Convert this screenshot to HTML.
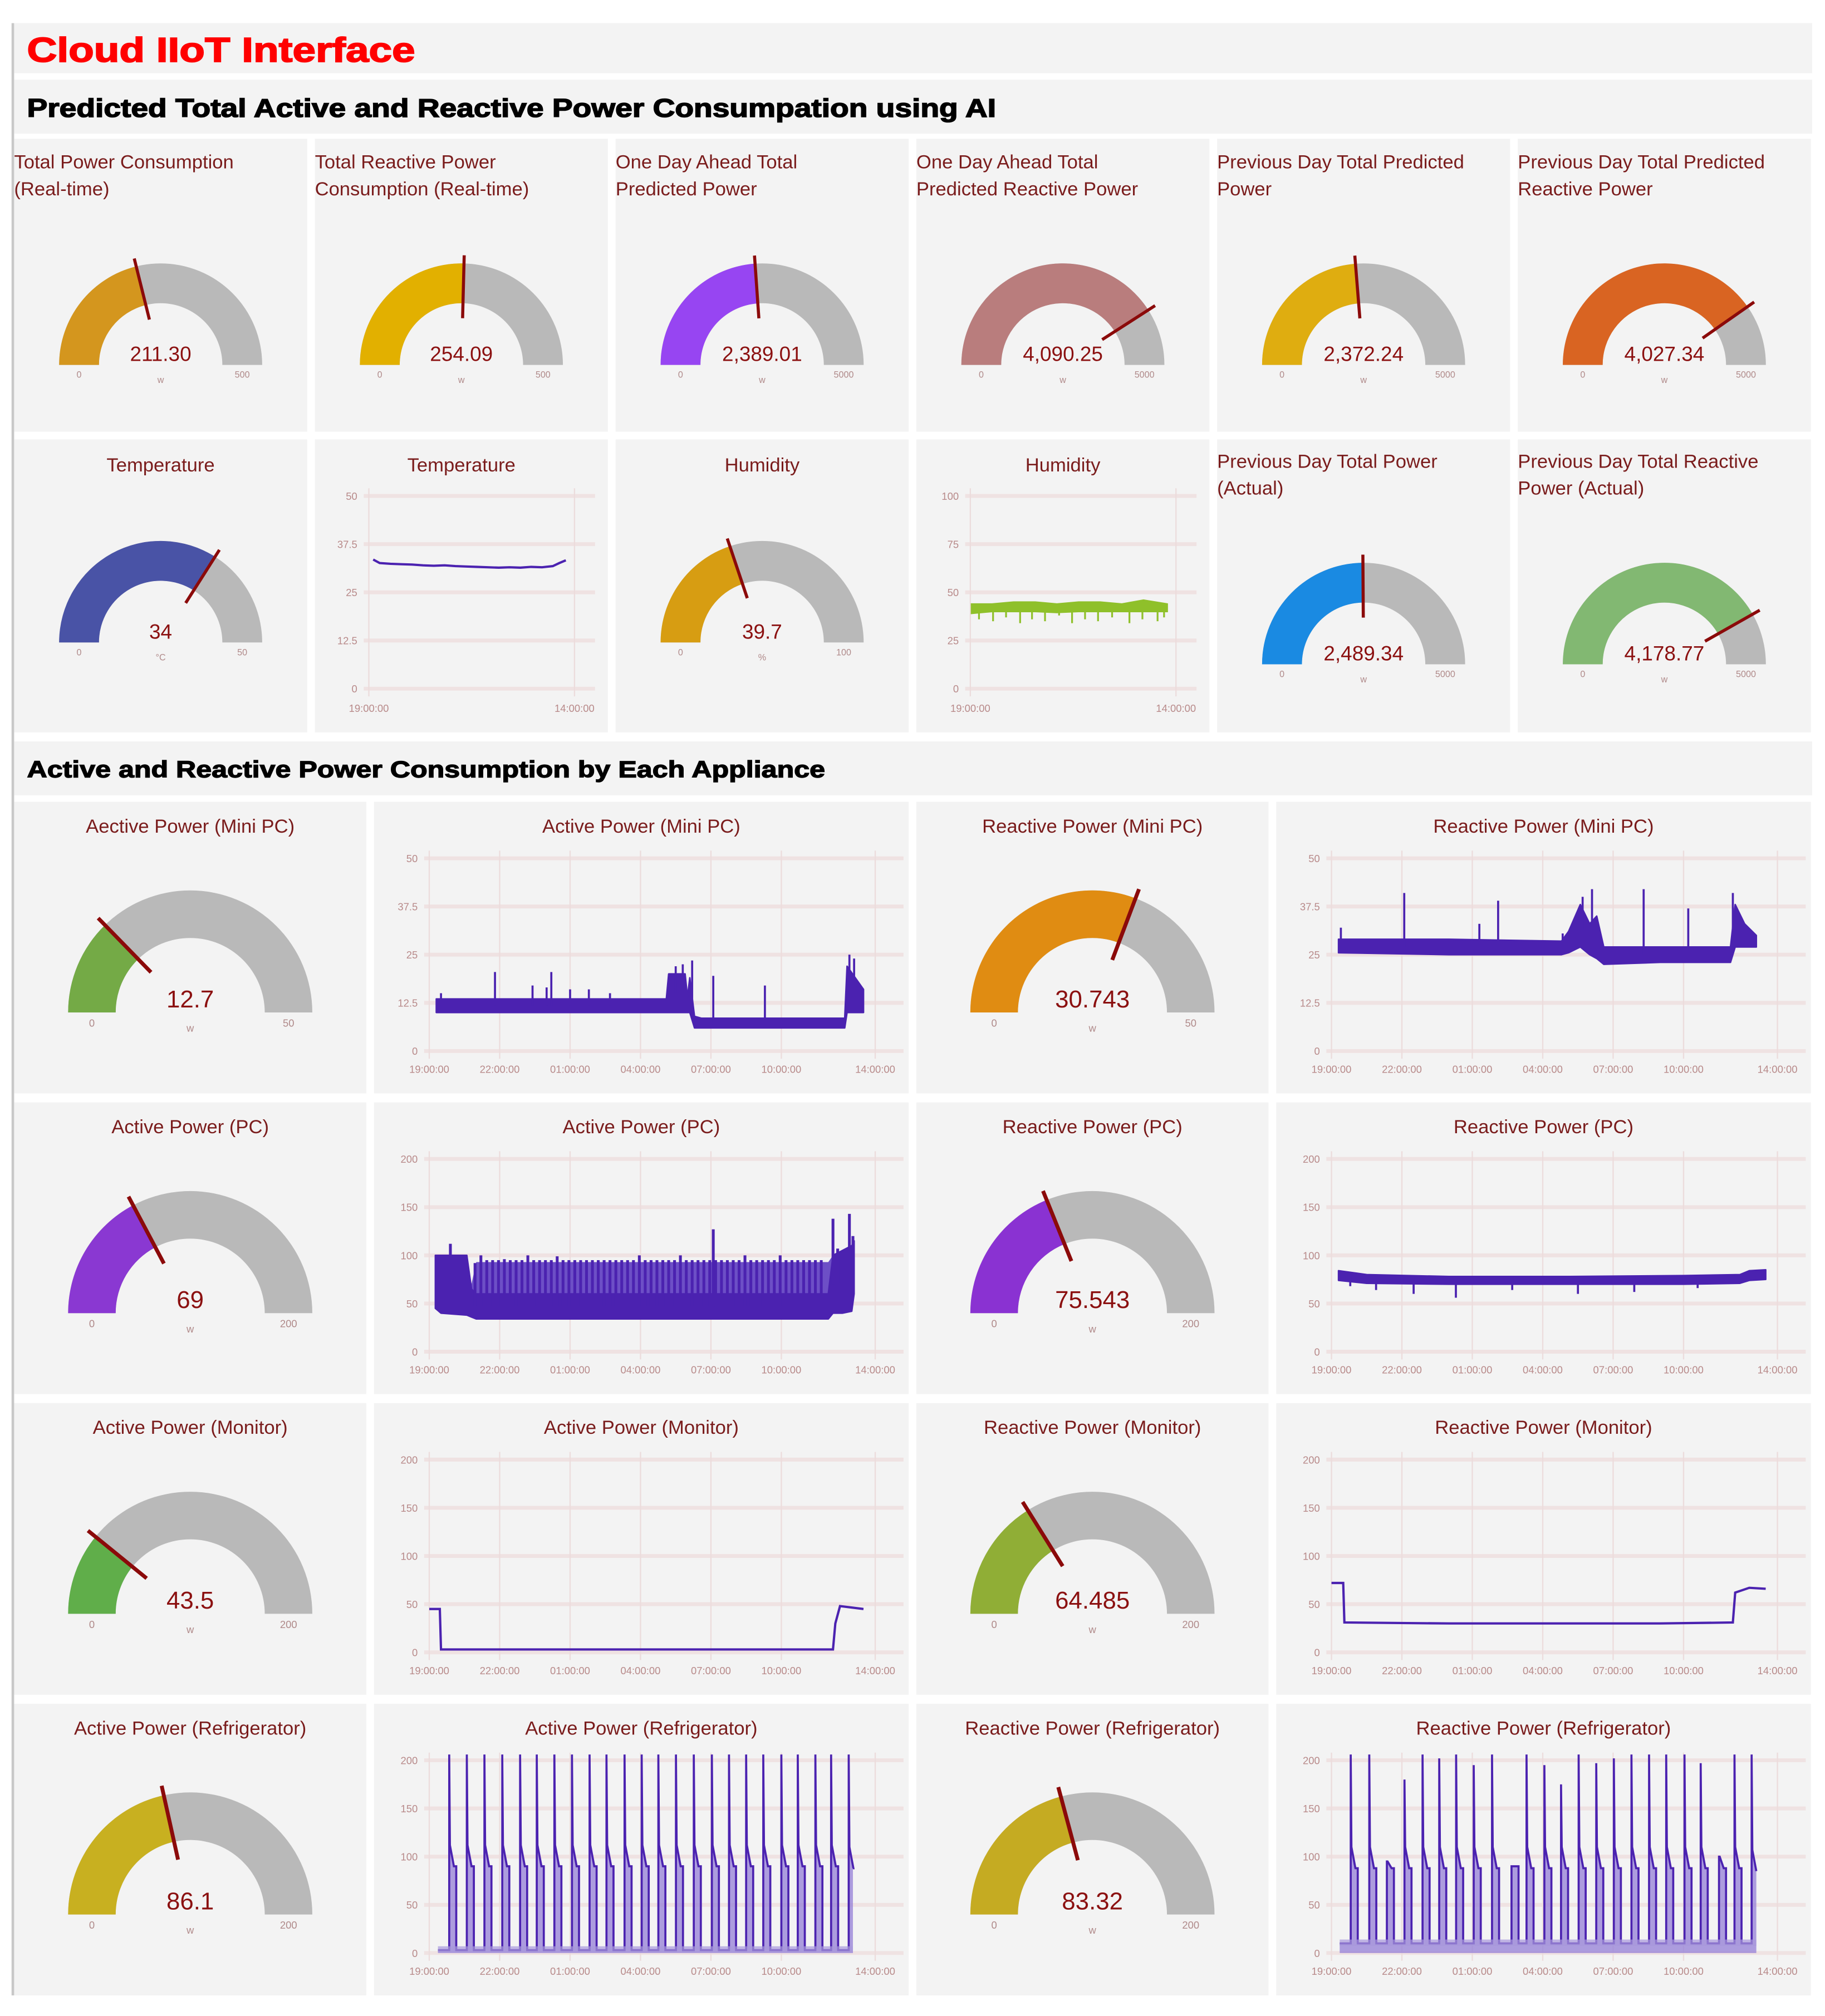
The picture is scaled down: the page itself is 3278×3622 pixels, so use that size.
<!DOCTYPE html>
<html><head><meta charset="utf-8"><style>
html,body{margin:0;padding:0;background:#fff;}
body{width:3278px;height:3622px;overflow:hidden;position:relative;}
#root{position:absolute;left:0;top:0;width:1420px;height:1569px;transform:scale(2.30845);transform-origin:0 0;background:#fff;font-family:"Liberation Sans",sans-serif;}
.card{position:absolute;background:#f3f3f3;}
.card svg{position:absolute;left:0;top:0;overflow:visible;}
.bar{position:absolute;background:#f3f3f3;}
</style></head><body>
<div id="root">
  <div style="position:absolute;left:9px;top:18px;width:1.5px;height:1535px;background:#c8c8c8"></div>
  <div class="bar" style="left:11px;top:18px;width:1399px;height:39px">
    <svg width="1399" height="39"><text x="10" y="30" font-family="Liberation Sans, sans-serif" font-weight="bold" font-size="27" fill="#ff0000" stroke="#ff0000" stroke-width="0.8" textLength="302" lengthAdjust="spacingAndGlyphs">Cloud IIoT Interface</text></svg>
  </div>
  <div class="bar" style="left:11px;top:62px;width:1399px;height:42px">
    <svg width="1399" height="42"><text x="10" y="29" font-family="Liberation Sans, sans-serif" font-weight="bold" font-size="20" fill="#000" stroke="#000" stroke-width="0.7" textLength="754" lengthAdjust="spacingAndGlyphs">Predicted Total Active and Reactive Power Consumpation using AI</text></svg>
  </div>
  <div class="bar" style="left:11px;top:577px;width:1399px;height:42px">
    <svg width="1399" height="42"><text x="10" y="28" font-family="Liberation Sans, sans-serif" font-weight="bold" font-size="18" fill="#000" stroke="#000" stroke-width="0.6" textLength="621" lengthAdjust="spacingAndGlyphs">Active and Reactive Power Consumption by Each Appliance</text></svg>
  </div>
</div>
<script>
// ---------- DATA ----------
const topTitles = [['Total Power Consumption','(Real-time)'],['Total Reactive Power','Consumption (Real-time)'],['One Day Ahead Total','Predicted Power'],['One Day Ahead Total','Predicted Reactive Power'],['Previous Day Total Predicted','Power'],['Previous Day Total Predicted','Reactive Power']];
const topValues = [211.30, 254.09, 2389.01, 4090.25, 2372.24, 4027.34];
const topMax = [500, 500, 5000, 5000, 5000, 5000];
const topText = ['211.30','254.09','2,389.01','4,090.25','2,372.24','4,027.34'];
const topColors = ['#d4961e','#e2b000','#9745f2','#b97d7d','#dfad10','#d96422'];

const envValues = [34, 39.7, 2489.34, 4178.77];
const envMax = [50, 100, 5000, 5000];
const envText = ['34','39.7','2,489.34','4,178.77'];
const envUnits = ['°C','%','w','w'];
const envColors = ['#4953a6','#d79d12','#1a8ae2','#82b872'];

const appTitles = ['Aective Power (Mini PC)','Reactive Power (Mini PC)','Active Power (PC)','Reactive Power (PC)','Active Power (Monitor)','Reactive Power (Monitor)','Active Power (Refrigerator)','Reactive Power (Refrigerator)'];
const appValues = [12.7, 30.743, 69, 75.543, 43.5, 64.485, 86.1, 83.32];
const appMax = [50, 50, 200, 200, 200, 200, 200, 200];
const appText = ['12.7','30.743','69','75.543','43.5','64.485','86.1','83.32'];
const appColors = ['#74aa46','#e08c12','#8a38d2','#8a32d2','#60ae4a','#90ae36','#c8b020','#c5ab22'];
const chartTitles = ['Active Power (Mini PC)','Reactive Power (Mini PC)','Active Power (PC)','Reactive Power (PC)','Active Power (Monitor)','Reactive Power (Monitor)','Active Power (Refrigerator)','Reactive Power (Refrigerator)'];

const timeTicks = [0,3,6,9,12,15,19];
const timeLabels = ['19:00:00','22:00:00','01:00:00','04:00:00','07:00:00','10:00:00','14:00:00'];
const envTimeTicks = [0,19];
const envTimeLabels = ['19:00:00','14:00:00'];
const ticks50 = [0,12.5,25,37.5,50];
const ticks100 = [0,25,50,75,100];
const ticks200 = [0,50,100,150,200];

// Temperature (line)
const tempT = [0.4,1,2,3,4,5,6,7,8,9,10,11,12,13,14,15,16,17,17.6,18.2];
const tempV = [33.5,32.6,32.4,32.3,32.2,32.0,31.9,32.0,31.8,31.7,31.6,31.5,31.4,31.5,31.4,31.6,31.5,31.8,32.6,33.3];
// Humidity (band)
const humT = [0.1,2,4,6,8,10,12,14,16,18.2];
const humLo = [39,40,40,40,39.5,40,40,40,40,40];
const humHi = [44,44,45,45,44,45,45,44,46,44];
const humSpikeT = [0.8,2.1,3.3,4.6,5.7,6.9,8.2,9.4,10.6,11.8,13.1,14.7,15.9,17.3,17.9];
const humSpikeV = [36,35,37,34,36,35,38,34,36,35,37,34,36,35,37];

// Active mini PC (band)
const amT = [0.3,10.1,10.2,10.9,11.0,11.1,11.3,11.6,17.7,17.8,18.5];
const amLo = [10,10,10,10,10,10,6,6,6,10,10];
const amHi = [13.5,13.5,20,20,14,19,9,8.5,8.5,22,16];
const amSpikeT = [0.5,2.8,4.4,5.0,5.2,6.0,6.8,7.7,10.5,10.8,11.2,12.1,14.3,17.9,18.1];
const amSpikeV = [15,20.5,17,16.5,20.5,16,16,15,22,22.5,23.5,19.5,17,25,24];
// Reactive mini PC (band)
const rmT = [0.3,5,9.8,10.1,10.6,11.0,11.3,11.6,14,17.0,17.2,17.6,18.1];
const rmLo = [25.5,25,25,25.5,27,25,24,22.5,23,23,27,27,27];
const rmHi = [29,29,28.5,31,38,33,35,27,27,27,38,33,30];
const rmSpikeT = [0.4,3.1,6.3,7.1,9.85,10.7,11.1,13.3,15.2,17.1];
const rmSpikeV = [32,41,33,39,30.5,40,42,42,37,41];
// Active PC (band + spikes)
const apT = [0.26,0.5,1.6,1.8,2.0,17.0,17.2,17.6,18.0,18.1];
const apLo = [45,40,38,36,34,34,40,40,42,60];
const apHi = [100,100,100,65,60,60,100,105,110,115];
const apUpper = [100,100,100,70,93,93,100,105,110,115];
const apSpikeT = [1.95,2.2,2.45,2.7,2.95,3.2,3.45,3.7,3.95,4.2,4.45,4.7,4.95,5.2,5.45,5.7,5.95,6.2,6.45,6.7,6.95,7.2,7.45,7.7,7.95,8.2,8.45,8.7,8.95,9.2,9.45,9.7,9.95,10.2,10.45,10.7,10.95,11.2,11.45,11.7,11.95,12.2,12.45,12.7,12.95,13.2,13.45,13.7,13.95,14.2,14.45,14.7,14.95,15.2,15.45,15.7,15.95,16.2,16.45,16.7,0.9,12.1,17.2,17.4,17.9,18.05];
const apSpikeV = [92,100,95,95,95,96,95,95,95,100,95,95,95,95,99,95,95,95,95,95,95,95,95,95,95,95,95,95,100,95,95,95,95,95,95,100,95,95,95,95,95,95,95,95,95,95,100,95,95,95,95,95,100,95,95,95,95,95,95,95,112,127,138,107,143,120];
// Reactive PC (band)
const rpT = [0.3,1.5,5,10,15,17.4,17.8,18.5];
const rpLo = [74,71,70,70,70,71,74,75];
const rpHi = [84,80,78,78,79,80,84,85];
const rpSpikeT = [0.8,1.9,3.5,5.3,7.7,10.5,12.9,15.6];
const rpSpikeV = [68,64,60,56,64,60,62,66];
// Monitor (lines)
const amonT = [0,0.45,0.5,17.2,17.3,17.5,18.5];
const amonV = [45,45,3,3,30,48,45];
const rmonT = [0,0.5,0.55,5,10,14,17.1,17.2,17.8,18.5];
const rmonV = [72,72,31,30,30,30,31,62,67,66];
// Refrigerator (pulses)
const afOn = [0.85,1.60,2.35,3.11,3.87,4.58,5.33,6.08,6.83,7.55,8.32,9.05,9.76,10.51,11.27,12.04,12.77,13.50,14.23,15.0,15.70,16.45,17.12,17.87];
const afPeak = [206,206,206,206,206,206,206,206,206,206,206,206,206,206,206,206,206,206,206,206,206,206,206,206];
const afPlateau = [90,90,90,90,90,90,90,90,90,90,90,90,90,90,90,90,90,90,90,90,90,90,90,88];
const rfOn = [0.82,1.61,2.36,3.11,3.88,4.59,5.31,6.06,6.84,7.67,8.31,9.07,9.78,10.53,11.28,12.03,12.78,13.53,14.26,15.04,15.73,16.51,17.17,17.9];
const rfPeak = [206,206,95,180,206,202,206,195,206,90,206,195,175,206,197,202,206,206,206,206,197,100,206,206];
const rfPlateau = [88,88,88,88,88,88,88,88,88,90,88,88,88,88,88,88,88,88,88,88,88,88,88,85];

// ---------- DRAWING ----------
const NS = 'http://www.w3.org/2000/svg';
const root = document.getElementById('root');
function mk(tag, attrs, parent){ const e = document.createElementNS(NS, tag); for (const k in attrs) e.setAttribute(k, attrs[k]); parent.appendChild(e); return e; }
function txt(parent, x, y, s, size, fill, anchor){ const t = mk('text', {x:x, y:y, 'font-size':size, fill:fill, 'text-anchor':anchor||'start', 'font-family':'Liberation Sans, sans-serif'}, parent); t.textContent = s; return t; }

function makeCard(x, y, w, h, name){
  const d = document.createElement('div');
  d.className = 'card';
  d.style.left = x + 'px'; d.style.top = y + 'px'; d.style.width = w + 'px'; d.style.height = h + 'px';
  
  
  root.appendChild(d);
  const s = document.createElementNS(NS, 'svg');
  s.setAttribute('width', w); s.setAttribute('height', h);
  d.appendChild(s);
  return s;
}

const TITLE_COL = '#7a1c1c';
function polar(cx, cy, rad, frac){ const a = Math.PI * (1 - frac); return [cx + rad*Math.cos(a), cy - rad*Math.sin(a)]; }
function drawGauge(svg, cx, cy, R, r, value, max, color, label, unit, big, name){
  const g = mk('g', {}, svg);
  
  
  const bg = mk('path', {d:`M${cx-R},${cy} A${R},${R} 0 0 1 ${cx+R},${cy} L${cx+r},${cy} A${r},${r} 0 0 0 ${cx-r},${cy} Z`, fill:'#b9b9b9'}, g);
  
  
  const f = Math.max(0, Math.min(1, value/max));
  const [ox, oy] = polar(cx, cy, R, f), [ix, iy] = polar(cx, cy, r, f);
  const fill = mk('path', {d:`M${cx-R},${cy} A${R},${R} 0 0 1 ${ox},${oy} L${ix},${iy} A${r},${r} 0 0 0 ${cx-r},${cy} Z`, fill:color}, g);
  
  
  const [n1x, n1y] = polar(cx, cy, R*0.46, f), [n2x, n2y] = polar(cx, cy, R*1.08, f);
  const nd = mk('line', {x1:n1x, y1:n1y, x2:n2x, y2:n2y, stroke:'#8b0a0a', 'stroke-width': big ? 3 : 2.4, 'stroke-linecap':'butt'}, g);
  
  
  const vt = txt(g, cx, cy - (big ? 4 : 3), label, big ? 19 : 16, '#8b1010', 'middle');
  
  
  const m = (R + r) / 2, fs = big ? 8 : 7;
  txt(g, cx - m, cy + (big ? 11 : 10), '0', fs, '#b08a8a', 'middle');
  txt(g, cx + m, cy + (big ? 11 : 10), String(max), fs, '#b08a8a', 'middle');
  txt(g, cx, cy + (big ? 15 : 14), unit, fs, '#b08a8a', 'middle');
}

function interp(ts, vs, t){
  if (t <= ts[0]) return vs[0];
  for (let i = 1; i < ts.length; i++) if (t <= ts[i]) { const k = (t - ts[i-1])/(ts[i]-ts[i-1]); return vs[i-1] + k*(vs[i]-vs[i-1]); }
  return vs[vs.length-1];
}

function chartFrame(svg, x0, x19, right, yTicks, ymax, tTicks, tLabels, labelY){
  const X = t => x0 + t*(x19 - x0)/19;
  const Y = v => 194 - v/ymax*150;
  const grid = mk('g', {}, svg);
  
  
  yTicks.forEach(v => {
    mk('line', {x1:x0-4, y1:Y(v), x2:right, y2:Y(v), stroke:'#efe2e2', 'stroke-width':3}, grid);
    const lb = txt(grid, x0 - 9, Y(v) + 3, String(v), 8, '#b88a8a', 'end');
    
    
  });
  tTicks.forEach((t, i) => {
    mk('line', {x1:X(t), y1:38, x2:X(t), y2:200, stroke:'#ecdcdc', 'stroke-width':1}, grid);
    const lb = txt(grid, X(t), labelY, tLabels[i], 8, '#b88a8a', 'middle');
    
    
  });
  return [X, Y];
}
const PURPLE = '#4b22b0';
function drawBand(svg, X, Y, ts, lo, hi, sT, sV, name, sw){
  const g = mk('g', {}, svg);
  
  
  let pts = ts.map((t,i) => X(t)+','+Y(hi[i]));
  pts = pts.concat(ts.map((t,i) => X(t)+','+Y(lo[i])).reverse());
  mk('polygon', {points:pts.join(' '), fill:PURPLE, stroke:PURPLE, 'stroke-width':1.2, 'stroke-linejoin':'round'}, g);
  sT.forEach((t, i) => {
    const h = interp(ts, hi, t), l = interp(ts, lo, t);
    const base = sV[i] >= h ? l + (h-l)*0.5 : h;
    mk('line', {x1:X(t), y1:Y(base), x2:X(t), y2:Y(sV[i]), stroke:PURPLE, 'stroke-width':sw||1.6}, g);
  });
}
function drawLine(svg, X, Y, ts, vs, name, w){
  const p = mk('polyline', {points:ts.map((t,i)=>X(t)+','+Y(vs[i])).join(' '), fill:'none', stroke:PURPLE, 'stroke-width':w||1.6}, svg);
  
  
}
function drawPulses(svg, X, Y, on, peak, plateau, base, startT, endT, name){
  const g = mk('g', {}, svg);
  
  
  let d = `M${X(startT)},${Y(base)}`;
  on.forEach((t, i) => {
    const off = Math.min(t + 0.3, endT);
    d += ` L${X(t)},${Y(base)} L${X(t)},${Y(peak[i])} L${X(t+0.03)},${Y(Math.min(peak[i], plateau[i]+22))} L${X(t+0.2)},${Y(plateau[i])} L${X(off)},${Y(plateau[i])}`;
    if (i < on.length - 1) d += ` L${X(off)},${Y(base)}`;
  });
  const areaD = d + ` L${X(endT)},${Y(0)} L${X(startT)},${Y(0)} Z`;
  mk('path', {d:areaD, fill:'#9a86d8', 'fill-opacity':0.8, stroke:'none'}, g);
  mk('path', {d:d, fill:'none', stroke:PURPLE, 'stroke-width':1.6}, g);
  mk('rect', {x:X(startT), y:Y(base)-3, width:X(endT)-X(startT), height:5, fill:'#a898dc', opacity:0.7}, g);
}

// Row 1: six gauges
for (let i = 0; i < 6; i++) {
  const s = makeCard(11 + 234*i, 108, 228, 228, 'top-gauge-card-' + (i+1));
  txt(s, 0, 23, topTitles[i][0], 15, TITLE_COL);
  txt(s, 0, 44, topTitles[i][1], 15, TITLE_COL);
  drawGauge(s, 114, 176, 79, 48, topValues[i], topMax[i], topColors[i], topText[i], 'w', false, 'gauge-' + (i+1));
}

// Row 2
{
  const s0 = makeCard(11, 342, 228, 228, 'temperature-gauge-card');
  txt(s0, 114, 25, 'Temperature', 15, TITLE_COL, 'middle');
  drawGauge(s0, 114, 158, 79, 48, envValues[0], envMax[0], envColors[0], envText[0], envUnits[0], false, 'temperature-gauge');

  const s1 = makeCard(245, 342, 228, 228, 'temperature-chart-card');
  txt(s1, 114, 25, 'Temperature', 15, TITLE_COL, 'middle');
  const [X1, Y1] = chartFrame(s1, 42, 202, 218, ticks50, 50, envTimeTicks, envTimeLabels, 212);
  drawLine(s1, X1, Y1, tempT, tempV, 'temperature-line', 1.8);

  const s2 = makeCard(479, 342, 228, 228, 'humidity-gauge-card');
  txt(s2, 114, 25, 'Humidity', 15, TITLE_COL, 'middle');
  drawGauge(s2, 114, 158, 79, 48, envValues[1], envMax[1], envColors[1], envText[1], envUnits[1], false, 'humidity-gauge');

  const s3 = makeCard(713, 342, 228, 228, 'humidity-chart-card');
  txt(s3, 114, 25, 'Humidity', 15, TITLE_COL, 'middle');
  const [X3, Y3] = chartFrame(s3, 42, 202, 218, ticks100, 100, envTimeTicks, envTimeLabels, 212);
  const hg = mk('g', {}, s3);
  
  
  let hp = humT.map((t,i)=>X3(t)+','+Y3(humHi[i])).concat(humT.map((t,i)=>X3(t)+','+Y3(humLo[i])).reverse());
  mk('polygon', {points:hp.join(' '), fill:'#8fc02a', stroke:'#8fc02a', 'stroke-width':1}, hg);
  humSpikeT.forEach((t,i)=>{ mk('line', {x1:X3(t), y1:Y3(interp(humT, humLo, t)), x2:X3(t), y2:Y3(humSpikeV[i]), stroke:'#8fc02a', 'stroke-width':1.4}, hg); });

  const s4 = makeCard(947, 342, 228, 228, 'previous-day-power-actual-card');
  txt(s4, 0, 22, 'Previous Day Total Power', 15, TITLE_COL);
  txt(s4, 0, 43, '(Actual)', 15, TITLE_COL);
  drawGauge(s4, 114, 175, 79, 48, envValues[2], envMax[2], envColors[2], envText[2], envUnits[2], false, 'previous-day-power-actual-gauge');

  const s5 = makeCard(1181, 342, 228, 228, 'previous-day-reactive-actual-card');
  txt(s5, 0, 22, 'Previous Day Total Reactive', 15, TITLE_COL);
  txt(s5, 0, 43, 'Power (Actual)', 15, TITLE_COL);
  drawGauge(s5, 114, 175, 79, 48, envValues[3], envMax[3], envColors[3], envText[3], envUnits[3], false, 'previous-day-reactive-actual-gauge');
}

// Appliance rows
const chartTicks = [ticks50, ticks50, ticks200, ticks200, ticks200, ticks200, ticks200, ticks200];
const chartMax = [50, 50, 200, 200, 200, 200, 200, 200];
for (let k = 0; k < 8; k++) {
  const row = Math.floor(k/2), side = k % 2;
  const top = 624 + 234*row;
  const gx = side ? 713 : 11, cxp = side ? 993 : 291;
  const gs = makeCard(gx, top, 274, 227, 'appliance-gauge-card-' + (k+1));
  txt(gs, 137, 24, appTitles[k], 15, TITLE_COL, 'middle');
  drawGauge(gs, 137, 164, 95, 58, appValues[k], appMax[k], appColors[k], appText[k], 'w', true, 'appliance-gauge-' + (k+1));
  const cs = makeCard(cxp, top, 416, 227, 'appliance-chart-card-' + (k+1));
  txt(cs, 208, 24, chartTitles[k], 15, TITLE_COL, 'middle');
  const [X, Y] = chartFrame(cs, 43, 390, 412, chartTicks[k], chartMax[k], timeTicks, timeLabels, 211);
  if (k === 0) drawBand(cs, X, Y, amT, amLo, amHi, amSpikeT, amSpikeV, 'active-minipc-series');
  if (k === 1) drawBand(cs, X, Y, rmT, rmLo, rmHi, rmSpikeT, rmSpikeV, 'reactive-minipc-series');
  if (k === 2) {
    const up = mk('polygon', {points: apT.map((t,i)=>X(t)+','+Y(apUpper[i])).concat(apT.map((t,i)=>X(t)+','+Y(apLo[i])).reverse()).join(' '), fill:'#6d4fc6', stroke:'none'}, cs);
    
    
    drawBand(cs, X, Y, apT, apLo, apHi, apSpikeT, apSpikeV, 'active-pc-series', 2.2);
  }
  if (k === 3) drawBand(cs, X, Y, rpT, rpLo, rpHi, rpSpikeT, rpSpikeV, 'reactive-pc-series');
  if (k === 4) drawLine(cs, X, Y, amonT, amonV, 'active-monitor-series', 1.8);
  if (k === 5) drawLine(cs, X, Y, rmonT, rmonV, 'reactive-monitor-series', 1.8);
  if (k === 6) drawPulses(cs, X, Y, afOn, afPeak, afPlateau, 3, 0.37, 18.05, 'active-fridge-series');
  if (k === 7) drawPulses(cs, X, Y, rfOn, rfPeak, rfPlateau, 10, 0.35, 18.1, 'reactive-fridge-series');
}
</script>
</body></html>
